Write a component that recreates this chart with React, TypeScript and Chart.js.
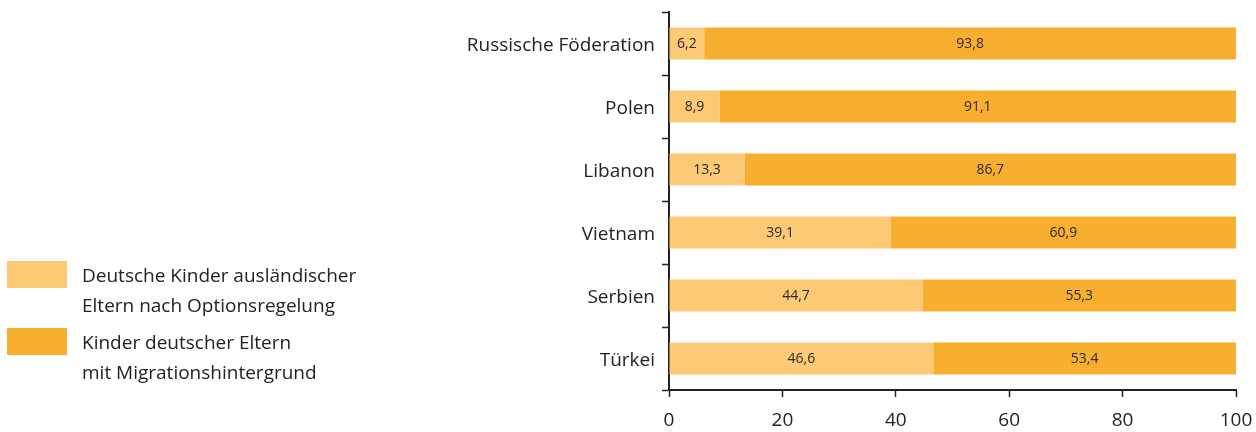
import React, { useEffect, useRef } from "react";
import { Chart, registerables } from "chart.js";

Chart.register(...registerables);

const categories = ["Russische Föderation", "Polen", "Libanon", "Vietnam", "Serbien", "Türkei"];
const optionValues = [6.2, 8.9, 13.3, 39.1, 44.7, 46.6];
const parentValues = [93.8, 91.1, 86.7, 60.9, 55.3, 53.4];
const xTicks = [0, 20, 40, 60, 80, 100];
const seriesNames = [
  ["Deutsche Kinder ausländischer", "Eltern nach Optionsregelung"],
  ["Kinder deutscher Eltern", "mit Migrationshintergrund"],
];
const colors = ["#fcc974", "#f8ae2f"];

const FONT = "'Open Sans', 'Noto Sans', sans-serif";

const valueLabels = {
  id: "valueLabels",
  afterDatasetsDraw(chart: any) {
    const ctx = chart.ctx;
    ctx.save();
    ctx.font = `14px ${FONT}`;
    ctx.fillStyle = "#2a2a2a";
    ctx.textAlign = "center";
    ctx.textBaseline = "middle";
    chart.data.datasets.forEach((ds: any, di: number) => {
      const meta = chart.getDatasetMeta(di);
      meta.data.forEach((el: any, i: number) => {
        const v = ds.data[i];
        const cx = (el.x + el.base) / 2;
        ctx.fillText(String(v).replace(".", ","), cx, el.y + 1);
      });
    });
    ctx.restore();
  },
};

export default function App() {
  const ref = useRef<HTMLCanvasElement>(null);
  useEffect(() => {
    if (!ref.current) return;
    const chart = new Chart(ref.current, {
      type: "bar",
      data: {
        labels: categories,
        datasets: [
          { label: seriesNames[0].join(" "), data: optionValues, backgroundColor: colors[0], borderWidth: 0, barPercentage: 0.51, categoryPercentage: 1 },
          { label: seriesNames[1].join(" "), data: parentValues, backgroundColor: colors[1], borderWidth: 0, barPercentage: 0.51, categoryPercentage: 1 },
        ],
      },
      options: {
        indexAxis: "y",
        animation: false,
        responsive: false,
        maintainAspectRatio: false,
        layout: { padding: { left: 0, right: 20, top: 12, bottom: 0 } },
        plugins: { legend: { display: false }, tooltip: { enabled: false } },
        scales: {
          x: {
            stacked: true,
            min: 0,
            max: 100,
            afterBuildTicks: (s: any) => { s.ticks = xTicks.map((v) => ({ value: v })); },
            afterFit: (s: any) => { s.height = 42; s.paddingLeft = 0; s.paddingRight = 0; },
            grid: { drawOnChartArea: false, tickLength: 7, color: "#222", tickWidth: 1.5 },
            border: { color: "#222", width: 2 },
            ticks: { font: { family: FONT, size: 19 }, color: "#222", padding: 12 },
          },
          y: {
            stacked: true,
            afterFit: (s: any) => { s.width = 669; s.paddingTop = 0; s.paddingBottom = 0; },
            grid: { drawOnChartArea: false, tickLength: 7, color: "#222", tickWidth: 1.5, offset: true },
            border: { color: "#222", width: 2 },
            ticks: { font: { family: FONT, size: 19 }, color: "#222", padding: 7, labelOffset: 2 },
          },
        },
      },
      plugins: [valueLabels],
    });
    return () => chart.destroy();
  }, []);

  const legendItem = (i: number, top: number) => (
    <div style={{ position: "absolute", left: 7, top, display: "flex" }}>
      <div style={{ width: 60, height: 27, background: colors[i], marginTop: 0 }} />
      <div style={{ marginLeft: 15, fontFamily: FONT, fontSize: 19, lineHeight: "30px", color: "#222", marginTop: -1 }}>
        {seriesNames[i][0]}<br />{seriesNames[i][1]}
      </div>
    </div>
  );

  return (
    <div style={{ position: "fixed", left: 0, top: 0, width: 1256, height: 432, background: "#fff" }}>
      <canvas ref={ref} width={1256} height={432} style={{ position: "absolute", left: 0, top: 0 }} />
      {legendItem(0, 261)}
      {legendItem(1, 328)}
    </div>
  );
}
